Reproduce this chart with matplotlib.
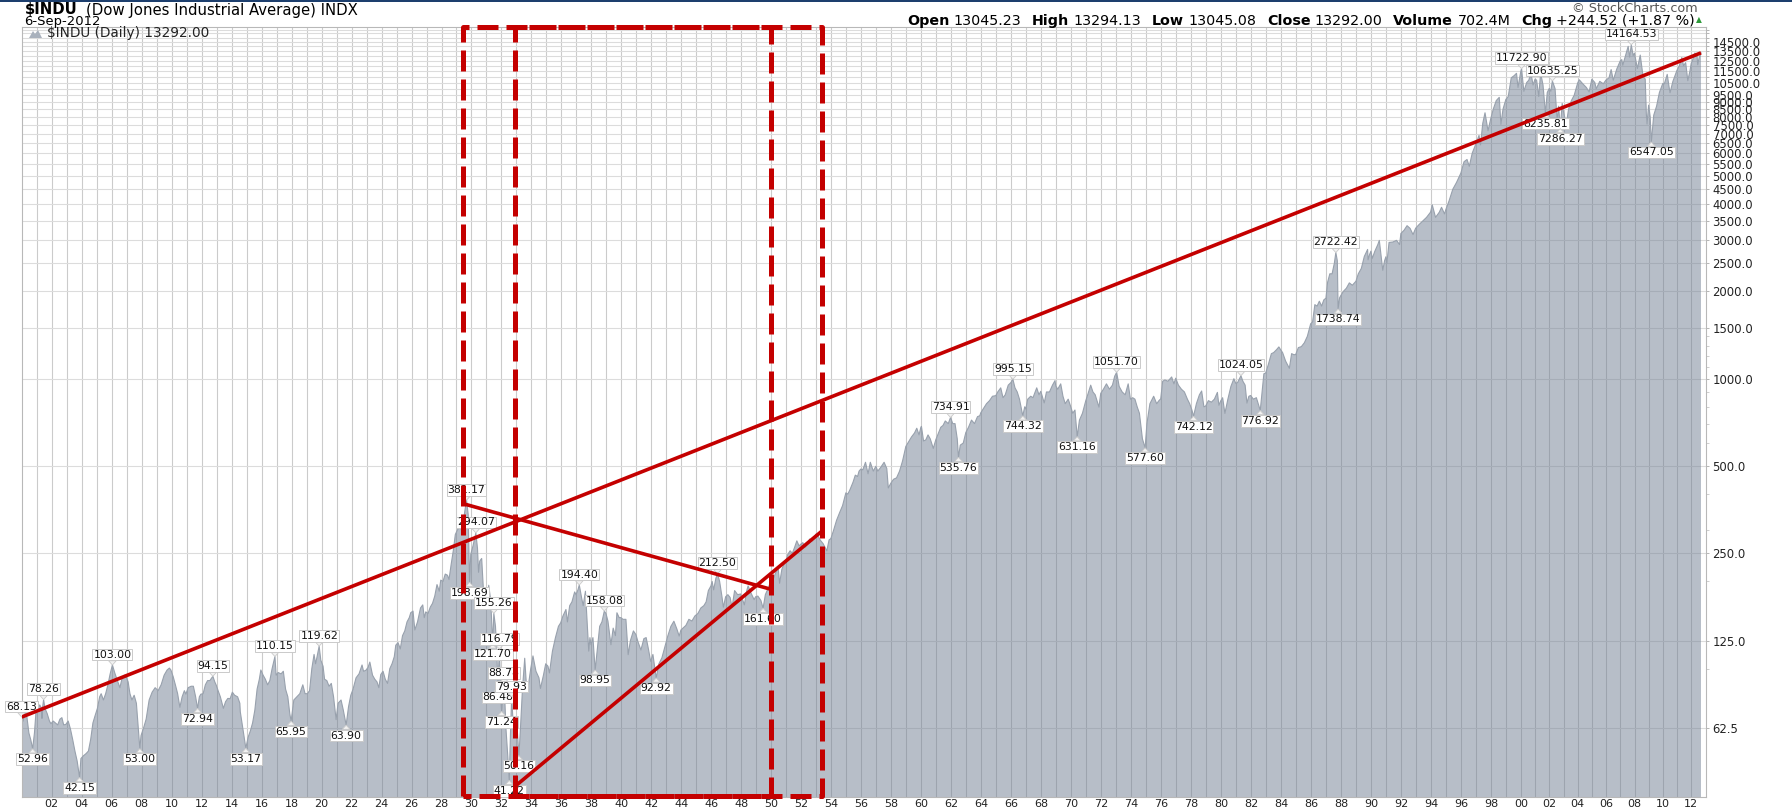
import matplotlib
matplotlib.use("Agg")
import numpy as np
import matplotlib.pyplot as plt
from matplotlib.ticker import FixedLocator, NullFormatter, FuncFormatter
from matplotlib.patches import Rectangle, Polygon

plt.rcParams['font.family'] = ['DejaVu Sans']

# ------------------------------------------------------------------ data
dow_1900s = [
 (1900.00, 68.13), (1900.10, 66.0), (1900.22, 72.0), (1900.35, 68.0), (1900.48, 60.0), (1900.60, 57.0), (1900.73, 52.96), (1900.85, 60.0), (1900.95, 70.7),
 (1901.05, 72.0), (1901.20, 75.0), (1901.33, 73.0), (1901.35, 67.4), (1901.40, 74.0), (1901.46, 78.26), (1901.55, 73.0), (1901.70, 70.0), (1901.85, 66.0), (1901.95, 64.6),
 (1902.10, 66.0), (1902.25, 65.0), (1902.40, 64.0), (1902.55, 67.0), (1902.68, 67.8), (1902.80, 64.0), (1902.95, 64.3),
 (1903.10, 66.0), (1903.25, 62.0), (1903.40, 57.0), (1903.55, 52.0), (1903.70, 48.0), (1903.86, 42.15), (1903.95, 49.0),
 (1904.10, 50.0), (1904.30, 51.0), (1904.45, 52.0), (1904.60, 57.0), (1904.75, 65.0), (1904.90, 69.0),
 (1905.05, 73.0), (1905.20, 80.0), (1905.30, 82.0), (1905.45, 78.0), (1905.60, 82.0), (1905.75, 88.0), (1905.90, 96.0),
 (1906.05, 103.00), (1906.20, 97.0), (1906.35, 92.0), (1906.55, 86.0), (1906.70, 93.0), (1906.85, 95.0), (1906.95, 94.4),
 (1907.10, 90.0), (1907.22, 82.0), (1907.35, 78.0), (1907.50, 81.0), (1907.65, 76.0), (1907.80, 60.0), (1907.88, 53.00), (1907.96, 58.8),
 (1908.15, 63.0), (1908.30, 67.0), (1908.50, 78.0), (1908.70, 83.0), (1908.90, 86.0),
 (1909.10, 84.0), (1909.30, 88.0), (1909.50, 95.0), (1909.70, 99.0), (1909.85, 100.5), (1909.95, 99.0),
]
dow_1910s = [
 (1910.10, 94.0), (1910.25, 88.0), (1910.40, 82.0), (1910.55, 73.6), (1910.70, 80.0), (1910.85, 84.0), (1910.95, 81.7),
 (1911.10, 86.0), (1911.30, 87.0), (1911.45, 87.0), (1911.60, 80.0), (1911.73, 72.94), (1911.85, 80.0), (1911.95, 81.7),
 (1912.10, 82.0), (1912.25, 88.0), (1912.40, 91.0), (1912.55, 91.0), (1912.75, 94.15), (1912.88, 90.0), (1912.97, 87.9),
 (1913.10, 84.0), (1913.25, 80.0), (1913.45, 73.0), (1913.60, 77.0), (1913.75, 79.0), (1913.90, 78.8),
 (1914.05, 83.0), (1914.20, 81.0), (1914.40, 80.0), (1914.55, 76.0), (1914.58, 71.0), (1914.95, 53.17),
 (1915.10, 58.0), (1915.25, 61.0), (1915.40, 65.0), (1915.55, 72.0), (1915.70, 85.0), (1915.85, 92.0), (1915.95, 99.0),
 (1916.10, 95.0), (1916.25, 92.0), (1916.40, 88.0), (1916.55, 91.0), (1916.70, 100.0), (1916.89, 110.15), (1916.97, 95.0),
 (1917.10, 97.0), (1917.30, 96.0), (1917.45, 98.0), (1917.60, 85.0), (1917.75, 80.0), (1917.88, 70.0), (1917.97, 65.95),
 (1918.15, 78.0), (1918.35, 80.0), (1918.55, 82.0), (1918.75, 88.0), (1918.90, 82.0),
 (1919.05, 82.0), (1919.20, 84.0), (1919.35, 100.0), (1919.50, 112.0), (1919.60, 104.0), (1919.70, 110.0), (1919.84, 119.62), (1919.95, 107.0),
]
dow_1920s = [
 (1920.10, 102.0), (1920.20, 92.0), (1920.35, 91.0), (1920.50, 87.0), (1920.65, 89.0), (1920.80, 80.0), (1920.97, 66.75),
 (1921.10, 76.0), (1921.30, 78.0), (1921.45, 72.0), (1921.64, 63.90), (1921.80, 74.0), (1921.95, 81.0),
 (1922.10, 85.0), (1922.30, 93.0), (1922.50, 96.0), (1922.70, 103.0), (1922.80, 98.0), (1922.95, 98.7),
 (1923.10, 101.0), (1923.22, 105.4), (1923.40, 95.0), (1923.55, 92.0), (1923.70, 90.0), (1923.82, 86.0), (1923.95, 95.5),
 (1924.10, 98.0), (1924.25, 92.0), (1924.40, 89.0), (1924.55, 100.0), (1924.70, 104.0), (1924.85, 110.0), (1924.95, 120.5),
 (1925.10, 123.0), (1925.25, 117.0), (1925.40, 130.0), (1925.55, 135.0), (1925.70, 145.0), (1925.85, 150.0), (1925.95, 156.0),
 (1926.10, 158.0), (1926.22, 136.0), (1926.40, 145.0), (1926.60, 162.0), (1926.75, 166.0), (1926.85, 150.0), (1926.95, 157.0),
 (1927.10, 155.0), (1927.25, 163.0), (1927.40, 168.0), (1927.55, 178.0), (1927.70, 195.0), (1927.85, 185.0), (1927.95, 202.0),
 (1928.10, 200.0), (1928.25, 212.0), (1928.40, 210.0), (1928.50, 203.0), (1928.65, 230.0), (1928.80, 258.0), (1928.92, 290.0),
 (1929.05, 300.0), (1929.20, 310.0), (1929.35, 300.0), (1929.45, 320.0), (1929.55, 348.0), (1929.67, 381.17), (1929.78, 340.0), (1929.87, 198.69), (1929.95, 248.0),
]
dow_1930s = [
 (1930.10, 265.0), (1930.20, 280.0), (1930.29, 294.07), (1930.40, 260.0), (1930.47, 215.0), (1930.55, 235.0), (1930.68, 240.0), (1930.80, 185.0), (1930.96, 160.0),
 (1931.05, 170.0), (1931.15, 194.0), (1931.28, 172.0), (1931.42, 121.70), (1931.49, 155.26), (1931.60, 140.0), (1931.70, 110.0), (1931.76, 86.48), (1931.86, 116.79), (1931.96, 78.0),
 (1932.01, 71.24), (1932.18, 88.78), (1932.30, 62.0), (1932.42, 50.0), (1932.52, 41.22), (1932.60, 60.0), (1932.68, 79.93), (1932.80, 62.0), (1932.92, 58.0),
 (1933.05, 62.0), (1933.16, 50.16), (1933.25, 60.0), (1933.40, 85.0), (1933.55, 108.67), (1933.65, 90.0), (1933.80, 88.0), (1933.95, 99.9),
 (1934.10, 110.7), (1934.30, 98.0), (1934.50, 93.0), (1934.60, 85.5), (1934.80, 95.0), (1934.95, 104.0),
 (1935.10, 102.0), (1935.20, 96.7), (1935.40, 115.0), (1935.60, 128.0), (1935.80, 140.0), (1935.95, 144.0),
 (1936.10, 152.0), (1936.30, 160.0), (1936.40, 145.0), (1936.55, 165.0), (1936.70, 170.0), (1936.88, 184.0), (1936.97, 180.0),
 (1937.10, 187.0), (1937.19, 194.40), (1937.35, 175.0), (1937.45, 165.0), (1937.60, 185.0), (1937.70, 150.0), (1937.82, 115.0), (1937.90, 128.0), (1937.97, 121.0),
 (1938.10, 128.0), (1938.25, 98.95), (1938.40, 118.0), (1938.55, 140.0), (1938.70, 145.0), (1938.86, 158.08), (1938.97, 154.8),
 (1939.10, 146.0), (1939.30, 121.0), (1939.45, 138.0), (1939.60, 130.0), (1939.70, 155.9), (1939.85, 150.0), (1939.97, 150.0),
]
dow_1940s = [
 (1940.10, 148.0), (1940.30, 148.0), (1940.45, 111.8), (1940.60, 125.0), (1940.80, 135.0), (1940.97, 131.0),
 (1941.10, 124.0), (1941.30, 116.0), (1941.50, 127.0), (1941.65, 128.0), (1941.80, 117.0), (1941.95, 106.0),
 (1942.10, 112.0), (1942.32, 92.92), (1942.50, 104.0), (1942.70, 109.0), (1942.90, 119.0),
 (1943.10, 130.0), (1943.30, 140.0), (1943.50, 145.8), (1943.70, 137.0), (1943.85, 129.6), (1943.97, 136.0),
 (1944.10, 138.0), (1944.30, 141.0), (1944.50, 148.0), (1944.70, 146.0), (1944.90, 152.0),
 (1945.10, 155.0), (1945.30, 162.0), (1945.50, 165.0), (1945.65, 170.0), (1945.80, 186.0), (1945.97, 192.9),
 (1946.05, 200.0), (1946.15, 187.0), (1946.30, 205.0), (1946.41, 212.50), (1946.55, 200.0), (1946.70, 178.0), (1946.80, 163.0), (1946.95, 177.0),
 (1947.10, 180.0), (1947.25, 176.0), (1947.38, 163.0), (1947.55, 186.0), (1947.75, 180.0), (1947.95, 181.0),
 (1948.10, 172.0), (1948.20, 166.0), (1948.35, 185.0), (1948.45, 193.0), (1948.65, 182.0), (1948.85, 173.0), (1948.95, 177.0),
 (1949.10, 178.0), (1949.30, 172.0), (1949.45, 161.60), (1949.60, 180.0), (1949.80, 190.0), (1949.95, 200.0),
]
dow_1950s = [
 (1950.10, 202.0), (1950.30, 215.0), (1950.45, 224.0), (1950.55, 197.0), (1950.70, 220.0), (1950.85, 230.0), (1950.97, 235.0),
 (1951.10, 248.0), (1951.25, 255.0), (1951.40, 250.0), (1951.55, 262.0), (1951.70, 276.0), (1951.85, 265.0), (1951.97, 269.0),
 (1952.10, 272.0), (1952.25, 262.0), (1952.40, 268.0), (1952.55, 280.0), (1952.70, 275.0), (1952.85, 282.0), (1952.97, 291.0),
 (1953.05, 292.0), (1953.25, 278.0), (1953.45, 270.0), (1953.70, 255.0), (1953.85, 278.0), (1953.97, 281.0),
 (1954.15, 300.0), (1954.35, 325.0), (1954.55, 345.0), (1954.75, 365.0), (1954.97, 404.0),
 (1955.10, 400.0), (1955.25, 415.0), (1955.45, 440.0), (1955.60, 465.0), (1955.75, 460.0), (1955.85, 480.0), (1955.97, 488.0),
 (1956.10, 485.0), (1956.28, 515.0), (1956.45, 470.0), (1956.60, 515.0), (1956.80, 480.0), (1956.97, 499.0),
 (1957.10, 480.0), (1957.30, 495.0), (1957.52, 515.0), (1957.70, 490.0), (1957.80, 420.0), (1957.97, 436.0),
 (1958.15, 450.0), (1958.35, 455.0), (1958.55, 480.0), (1958.75, 520.0), (1958.97, 584.0),
 (1959.15, 605.0), (1959.35, 630.0), (1959.55, 650.0), (1959.70, 675.0), (1959.85, 640.0), (1959.97, 679.0),
]
dow_1960s = [
 (1960.01, 685.0), (1960.15, 610.0), (1960.30, 615.0), (1960.45, 640.0), (1960.60, 620.0), (1960.80, 575.0), (1960.97, 616.0),
 (1961.10, 640.0), (1961.30, 680.0), (1961.45, 690.0), (1961.60, 715.0), (1961.80, 700.0), (1961.95, 734.91),
 (1962.10, 700.0), (1962.25, 700.0), (1962.40, 620.0), (1962.48, 535.76), (1962.60, 590.0), (1962.80, 600.0), (1962.97, 652.0),
 (1963.15, 680.0), (1963.35, 720.0), (1963.55, 700.0), (1963.75, 740.0), (1963.90, 745.0), (1963.97, 763.0),
 (1964.15, 790.0), (1964.35, 820.0), (1964.55, 840.0), (1964.75, 870.0), (1964.97, 874.0),
 (1965.10, 900.0), (1965.30, 930.0), (1965.45, 860.0), (1965.60, 880.0), (1965.80, 950.0), (1965.97, 969.0),
 (1966.11, 995.15), (1966.25, 930.0), (1966.40, 900.0), (1966.55, 850.0), (1966.77, 744.32), (1966.90, 800.0), (1966.97, 786.0),
 (1967.10, 850.0), (1967.30, 870.0), (1967.45, 860.0), (1967.70, 930.0), (1967.85, 880.0), (1967.97, 905.0),
 (1968.10, 860.0), (1968.20, 825.0), (1968.35, 900.0), (1968.55, 900.0), (1968.75, 950.0), (1968.92, 985.0), (1968.97, 944.0),
 (1969.10, 920.0), (1969.30, 960.0), (1969.45, 870.0), (1969.60, 820.0), (1969.80, 850.0), (1969.97, 800.0),
]
dow_1970s = [
 (1970.10, 760.0), (1970.25, 780.0), (1970.40, 631.16), (1970.55, 720.0), (1970.75, 760.0), (1970.97, 839.0),
 (1971.10, 880.0), (1971.30, 950.0), (1971.45, 900.0), (1971.60, 880.0), (1971.85, 798.0), (1971.97, 890.0),
 (1972.15, 920.0), (1972.35, 960.0), (1972.55, 920.0), (1972.75, 950.0), (1972.90, 1020.0),
 (1973.03, 1051.70), (1973.20, 940.0), (1973.40, 900.0), (1973.60, 880.0), (1973.80, 960.0), (1973.95, 850.0),
 (1974.10, 860.0), (1974.25, 850.0), (1974.40, 800.0), (1974.55, 760.0), (1974.75, 620.0), (1974.93, 577.60),
 (1975.05, 700.0), (1975.25, 820.0), (1975.50, 870.0), (1975.70, 820.0), (1975.85, 840.0), (1975.97, 852.0),
 (1976.10, 980.0), (1976.25, 990.0), (1976.45, 980.0), (1976.70, 1014.0), (1976.85, 960.0), (1976.97, 1004.0),
 (1977.15, 950.0), (1977.35, 920.0), (1977.55, 900.0), (1977.75, 850.0), (1977.90, 820.0),
 (1978.05, 780.0), (1978.16, 742.12), (1978.35, 820.0), (1978.55, 880.0), (1978.70, 907.0), (1978.85, 800.0), (1978.97, 805.0),
 (1979.15, 840.0), (1979.35, 830.0), (1979.55, 850.0), (1979.75, 897.0), (1979.85, 810.0), (1979.97, 838.0),
]
dow_1980s = [
 (1980.10, 860.0), (1980.25, 759.0), (1980.45, 850.0), (1980.65, 940.0), (1980.85, 1000.0), (1980.97, 964.0),
 (1981.10, 970.0), (1981.32, 1024.05), (1981.45, 980.0), (1981.60, 950.0), (1981.72, 824.0), (1981.85, 870.0), (1981.97, 875.0),
 (1982.15, 850.0), (1982.35, 860.0), (1982.50, 810.0), (1982.61, 776.92), (1982.75, 920.0), (1982.85, 1040.0), (1982.97, 1046.0),
 (1983.15, 1120.0), (1983.35, 1220.0), (1983.50, 1230.0), (1983.70, 1260.0), (1983.85, 1287.0), (1983.97, 1258.0),
 (1984.10, 1230.0), (1984.30, 1150.0), (1984.55, 1086.0), (1984.70, 1220.0), (1984.85, 1210.0), (1984.97, 1211.0),
 (1985.15, 1280.0), (1985.35, 1290.0), (1985.55, 1330.0), (1985.75, 1400.0), (1985.97, 1546.0),
 (1986.10, 1570.0), (1986.25, 1800.0), (1986.40, 1780.0), (1986.55, 1850.0), (1986.70, 1780.0), (1986.85, 1870.0), (1986.99, 1895.0),
 (1987.10, 2150.0), (1987.25, 2300.0), (1987.40, 2300.0), (1987.55, 2500.0), (1987.65, 2722.42), (1987.75, 2550.0), (1987.80, 1738.74), (1987.90, 1900.0), (1987.99, 1938.0),
 (1988.15, 2000.0), (1988.35, 2050.0), (1988.55, 2140.0), (1988.75, 2100.0), (1988.99, 2168.0),
 (1989.15, 2300.0), (1989.35, 2400.0), (1989.55, 2640.0), (1989.77, 2791.0), (1989.80, 2570.0), (1989.90, 2680.0), (1989.99, 2753.0),
]
dow_1990s = [
 (1990.08, 2600.0), (1990.25, 2750.0), (1990.45, 2900.0), (1990.55, 2999.0), (1990.65, 2700.0), (1990.78, 2365.0), (1990.90, 2550.0), (1990.99, 2633.0),
 (1991.05, 2500.0), (1991.20, 2950.0), (1991.45, 2960.0), (1991.70, 3000.0), (1991.90, 2900.0), (1991.99, 3168.0),
 (1992.20, 3250.0), (1992.40, 3370.0), (1992.60, 3300.0), (1992.80, 3140.0), (1992.97, 3301.0),
 (1993.20, 3400.0), (1993.45, 3500.0), (1993.70, 3600.0), (1993.97, 3754.0),
 (1994.08, 3978.0), (1994.30, 3600.0), (1994.55, 3750.0), (1994.70, 3900.0), (1994.90, 3700.0), (1994.99, 3834.0),
 (1995.20, 4100.0), (1995.45, 4500.0), (1995.70, 4750.0), (1995.99, 5117.0),
 (1996.20, 5600.0), (1996.40, 5700.0), (1996.55, 5400.0), (1996.75, 6000.0), (1996.99, 6448.0),
 (1997.20, 6900.0), (1997.30, 6400.0), (1997.45, 7600.0), (1997.60, 8259.0), (1997.80, 7161.0), (1997.99, 7908.0),
 (1998.15, 8500.0), (1998.35, 9100.0), (1998.55, 9337.0), (1998.66, 7539.0), (1998.80, 8500.0), (1998.99, 9181.0),
 (1999.15, 9400.0), (1999.35, 10900.0), (1999.55, 11100.0), (1999.70, 11300.0), (1999.80, 10100.0), (1999.99, 11497.0),
]
dow_2000s = [
 (2000.04, 11722.90), (2000.20, 9796.0), (2000.40, 10500.0), (2000.55, 10700.0), (2000.70, 11310.0), (2000.85, 10300.0), (2000.99, 10787.0),
 (2001.10, 10700.0), (2001.25, 9400.0), (2001.38, 11337.0), (2001.55, 10300.0), (2001.72, 8235.81), (2001.85, 9700.0), (2001.99, 10021.0),
 (2002.10, 9800.0), (2002.21, 10635.25), (2002.40, 10000.0), (2002.55, 7702.0), (2002.65, 8700.0), (2002.77, 7286.27), (2002.90, 8900.0), (2002.99, 8341.0),
 (2003.19, 7524.0), (2003.35, 8500.0), (2003.55, 9100.0), (2003.75, 9500.0), (2003.99, 10453.0),
 (2004.10, 10737.0), (2004.35, 10400.0), (2004.60, 10100.0), (2004.80, 9750.0), (2004.99, 10783.0),
 (2005.20, 10500.0), (2005.30, 10000.0), (2005.55, 10600.0), (2005.80, 10400.0), (2005.99, 10717.0),
 (2006.20, 10900.0), (2006.35, 11640.0), (2006.50, 10700.0), (2006.75, 11700.0), (2006.99, 12463.0),
 (2007.10, 12600.0), (2007.17, 12050.0), (2007.40, 13200.0), (2007.55, 14000.0), (2007.65, 12850.0), (2007.77, 14164.53), (2007.90, 13000.0), (2007.99, 13264.0),
 (2008.20, 11740.0), (2008.40, 13060.0), (2008.60, 11000.0), (2008.75, 10800.0), (2008.83, 8175.0), (2008.88, 7552.0), (2008.99, 8776.0),
 (2009.10, 8000.0), (2009.18, 6547.05), (2009.35, 8100.0), (2009.55, 8700.0), (2009.75, 9700.0), (2009.99, 10428.0),
]
dow_2010s = [
 (2010.10, 10400.0), (2010.30, 11205.0), (2010.45, 10000.0), (2010.50, 9686.0), (2010.70, 10600.0), (2010.99, 11577.0),
 (2011.15, 12000.0), (2011.33, 12810.0), (2011.45, 12000.0), (2011.60, 12300.0), (2011.75, 10655.0), (2011.90, 11500.0), (2011.99, 12217.0),
 (2012.10, 12600.0), (2012.25, 13279.0), (2012.40, 13000.0), (2012.45, 12101.0), (2012.55, 12800.0), (2012.68, 13292.00),
]

# peak / trough call-outs: text, year, value, side
ann_text = ["68.13", "78.26", "52.96", "103.00", "42.15", "53.00", "94.15", "72.94", "53.17",
            "110.15", "65.95", "119.62", "63.90", "381.17", "294.07", "198.69", "155.26", "121.70",
            "116.79", "88.78", "86.48", "79.93", "71.24", "50.16", "41.22", "194.40", "98.95",
            "158.08", "92.92", "212.50", "161.60", "734.91", "535.76", "995.15", "744.32", "631.16",
            "1051.70", "577.60", "742.12", "1024.05", "776.92", "2722.42", "1738.74", "11722.90",
            "10635.25", "8235.81", "7286.27", "14164.53", "6547.05"]
ann_year = [1900.00, 1901.46, 1900.73, 1906.05, 1903.86, 1907.88, 1912.75, 1911.73, 1914.95,
            1916.89, 1917.97, 1919.84, 1921.64, 1929.67, 1930.29, 1929.87, 1931.49, 1931.42,
            1931.86, 1932.18, 1931.76, 1932.68, 1932.01, 1933.16, 1932.52, 1937.19, 1938.25,
            1938.86, 1942.32, 1946.41, 1949.45, 1961.95, 1962.48, 1966.11, 1966.77, 1970.40,
            1973.03, 1974.93, 1978.16, 1981.32, 1982.61, 1987.65, 1987.80, 2000.04,
            2002.21, 2001.72, 2002.77, 2007.77, 2009.18]
ann_value = [68.13, 78.26, 52.96, 103.00, 42.15, 53.00, 94.15, 72.94, 53.17,
             110.15, 65.95, 119.62, 63.90, 381.17, 294.07, 198.69, 155.26, 121.70,
             116.79, 88.78, 86.48, 79.93, 71.24, 50.16, 41.22, 194.40, 98.95,
             158.08, 92.92, 212.50, 161.60, 734.91, 535.76, 995.15, 744.32, 631.16,
             1051.70, 577.60, 742.12, 1024.05, 776.92, 2722.42, 1738.74, 11722.90,
             10635.25, 8235.81, 7286.27, 14164.53, 6547.05]
ann_side = ["up", "up", "dn", "up", "dn", "dn", "up", "dn", "dn",
            "up", "dn", "up", "dn", "up", "up", "dn", "up", "dn",
            "up", "up", "dn", "up", "dn", "dn", "dn", "up", "dn",
            "up", "dn", "up", "dn", "up", "dn", "up", "dn", "dn",
            "up", "dn", "dn", "up", "dn", "up", "dn", "up",
            "up", "dn", "dn", "up", "dn"]

# hand-drawn red lines (year, value)
trend_long = [(1900.00, 68.13), (2012.68, 13292.0)]
trend_down = [(1929.50, 370.0), (1949.95, 188.0)]
trend_up = [(1932.93, 39.4), (1953.40, 299.0)]
box_a_years = (1929.44, 1950.00)
box_b_years = (1932.93, 1953.40)

ytick_labels = [62.5, 125, 250, 500, 1000, 1500, 2000, 2500, 3000, 3500, 4000, 4500, 5000,
                5500, 6000, 6500, 7000, 7500, 8000, 8500, 9000, 9500, 10500, 11500, 12500,
                13500, 14500]
ygrid_values = sorted(set(ytick_labels) | set(range(1500, 16001, 500)))
xtick_years = list(range(1902, 2013, 2))

series = dow_1900s + dow_1910s + dow_1920s + dow_1930s + dow_1940s + dow_1950s + \
         dow_1960s + dow_1970s + dow_1980s + dow_1990s + dow_2000s + dow_2010s
years = np.array([p[0] for p in series])
close = np.array([p[1] for p in series])

# ------------------------------------------------------------------ figure
W, H, DPI = 1792, 811, 100
fig = plt.figure(figsize=(W / DPI, H / DPI), dpi=DPI)
fig.patch.set_facecolor('white')

# x axis: year -> pixel-like units (the chart compresses after 2000)
P0, P2000, PEND, YEND = 21.7, 1521.0, 1701.0, 2012.68
S1 = (P2000 - P0) / 100.0
S2 = (PEND - P2000) / (YEND - 2000.0)
U2000 = 100.0 * S1


def fwd(x):
    x = np.asarray(x, dtype=float)
    return np.where(x <= 2000.0, (x - 1900.0) * S1, U2000 + (x - 2000.0) * S2)


def inv(u):
    u = np.asarray(u, dtype=float)
    return np.where(u <= U2000, 1900.0 + u / S1, 2000.0 + (u - U2000) / S2)


AX_L, AX_R, AX_T, AX_B = 22.0, 1706.0, 27.3, 797.0
ax = fig.add_axes([AX_L / W, 1 - AX_B / H, (AX_R - AX_L) / W, (AX_B - AX_T) / H])
ax.set_xscale('function', functions=(fwd, inv))
ax.set_yscale('log')


def px_to_val(py):
    return 500.0 * 2 ** ((466.0 - py) / 87.3)


ax.set_ylim(px_to_val(AX_B), px_to_val(AX_T))
ax.set_xlim(1900.0 + (AX_L - P0) / S1, YEND + (AX_R - PEND) / S2)

# grid
ax.set_axisbelow(True)
ax.xaxis.set_major_locator(FixedLocator(xtick_years))
ax.xaxis.set_minor_locator(FixedLocator(list(range(1901, 2013))))
ax.xaxis.set_major_formatter(FuncFormatter(lambda v, p: "%02d" % (int(round(v)) % 100)))
ax.xaxis.set_minor_formatter(NullFormatter())
ax.grid(True, axis='x', which='both', color='#cbcbcb', lw=0.8, zorder=0)
ax.yaxis.set_major_locator(FixedLocator(ygrid_values))
minor_y = [v for v in list(range(100, 1000, 100)) + list(range(1100, 1500, 100))
           if v not in ygrid_values]
ax.yaxis.set_minor_locator(FixedLocator(minor_y))
ax.yaxis.set_major_formatter(FuncFormatter(
    lambda v, p: ("%.1f" % v) if any(abs(v - t) < 1e-6 for t in ytick_labels) else ""))
ax.yaxis.set_minor_formatter(NullFormatter())
ax.grid(True, axis='y', which='major', color='#dcdcdc', lw=0.8, zorder=0)

ax.yaxis.tick_right()
ax.tick_params(axis='y', which='major', direction='out', length=2.5, width=0.6,
               color='#aaaaaa', pad=2.2, labelsize=8.4, labelcolor='#222222')
ax.tick_params(axis='y', which='minor', direction='out', length=2.0, width=0.5, color='#bbbbbb')
ax.tick_params(axis='x', which='both', length=0, pad=1.6, labelsize=8.0, labelcolor='#222222')
for s in ax.spines.values():
    s.set_color('#b8b8b8')
    s.set_linewidth(0.8)

# area
ax.fill_between(years, close, 1.0, color=(113 / 255, 127 / 255, 147 / 255), alpha=0.5,
                lw=0, zorder=2)
ax.plot(years, close, color='#98a1ad', lw=0.8, zorder=2.5)

# call-outs
for txt, yr, val, side in zip(ann_text, ann_year, ann_value, ann_side):
    off = 7.5 if side == 'up' else -7.5
    ax.annotate(txt, xy=(yr, val), xytext=(0, off), textcoords='offset points',
                ha='center', va='center', fontsize=7.8, color='#111111',
                bbox=dict(boxstyle='square,pad=0.08', fc='white', ec='#cacaca', lw=0.7),
                arrowprops=dict(arrowstyle='wedge,tail_width=0.7', fc='#f2f2f2', ec='#cacaca',
                                lw=0.6, shrinkA=0, shrinkB=0),
                zorder=4, annotation_clip=False)

# red lines
RED = '#c40000'
for seg in (trend_long, trend_down, trend_up):
    ax.plot([p[0] for p in seg], [p[1] for p in seg], color=RED, lw=2.6,
            solid_capstyle='butt', zorder=6)
xt = ax.get_xaxis_transform()
ybot, ytop = 0.0015, 1.0
for (x0, x1) in (box_a_years, box_b_years):
    ax.plot([x0, x0, x1, x1, x0], [ybot, ytop, ytop, ybot, ybot], transform=xt,
            color=RED, lw=3.6, dashes=(4.2, 1.6), solid_capstyle='butt',
            dash_capstyle='butt', zorder=6, clip_on=False)

# ------------------------------------------------------------------ header texts
renderer = fig.canvas.get_renderer()


def fit_runs(runs, x0, x1, y, base=10.0, shrink=1.0):
    ts = []
    for s, kw, gap in runs:
        ts.append(fig.text(0, 1 - y / H, s, fontsize=base, va='center', ha='left',
                           parse_math=False, **kw))

    def layout(fs):
        px = fs * DPI / 72.0
        x = x0
        for t, (s, kw, gap) in zip(ts, runs):
            t.set_fontsize(fs)
            t.set_x(x / W)
            w = t.get_window_extent(renderer).width
            x += w + gap * px
        return x - x0

    total = layout(base)
    fs = base * (x1 - x0) / total
    layout(fs)
    if shrink != 1.0:
        layout(fs * shrink)
    return ts


B = dict(fontweight='bold', color='black')
N = dict(color='black')
fit_runs([("$INDU", B, 0)], 25, 78, 9.5)
fit_runs([("(Dow Jones Industrial Average) INDX", N, 0)], 86, 358, 10)
fit_runs([("6-Sep-2012", N, 0)], 24, 105, 21.5, shrink=0.93)
fit_runs([("Open", B, .3), ("13045.23", N, .75), ("High", B, .3), ("13294.13", N, .75),
          ("Low", B, .3), ("13045.08", N, .75), ("Close", B, .3), ("13292.00", N, .75),
          ("Volume", B, .3), ("702.4M", N, .75), ("Chg", B, .3),
          ("+244.52 (+1.87 %)", N, 0)], 907, 1691, 21)
fig.text(1699 / W, 1 - 20 / H, "▲", fontsize=5.5, color='#2e9a3a', ha='center', va='center')
fit_runs([("© StockCharts.com", dict(color='#555555'), 0)], 1572, 1704, 9, shrink=0.95)
fig.text(47 / W, 1 - 33.5 / H, "$INDU (Daily) 13292.00", fontsize=9.8, color='#222222',
         ha='left', va='center', parse_math=False)

# legend mountain icon
icon = [(29, 38), (33, 31), (35, 34), (38, 30), (42, 38)]
fig.add_artist(Polygon([(x / W, 1 - y / H) for x, y in icon], closed=True,
                       transform=fig.transFigure, fc='#a9b1bc', ec='none'))
# thin navy strip at the very top
fig.add_artist(Rectangle((0, 1 - 2.0 / H), 1, 2.0 / H, transform=fig.transFigure,
                         fc='#1d3f6e', ec='none'))

fig.savefig("out.png", dpi=DPI)
